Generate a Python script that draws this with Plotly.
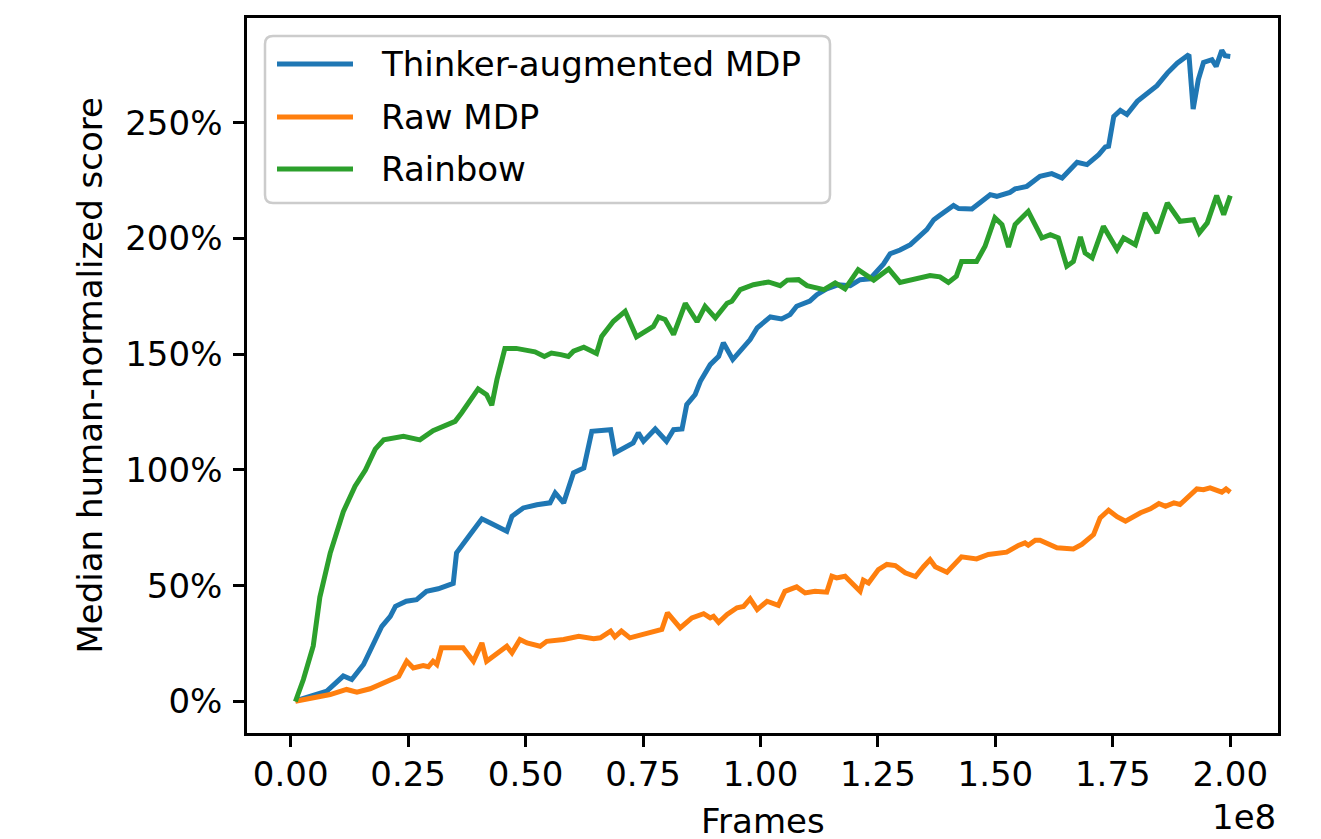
import plotly.graph_objects as go

# ---------------- data (frames in units of 1e8, score in %) ----------------
thinker_x = [0.010, 0.077, 0.112, 0.130, 0.155, 0.173, 0.194, 0.212, 0.223, 0.246, 0.268, 0.289,
             0.314, 0.346, 0.353, 0.382, 0.407, 0.424, 0.460, 0.471, 0.495, 0.524, 0.552, 0.563,
             0.581, 0.602, 0.624, 0.641, 0.681, 0.690, 0.715, 0.729, 0.740, 0.751, 0.776, 0.800,
             0.815, 0.833, 0.843, 0.861, 0.872, 0.893, 0.911, 0.921, 0.941, 0.961, 0.978, 0.993,
             1.021, 1.045, 1.063, 1.077, 1.105, 1.120, 1.141, 1.166, 1.191, 1.212, 1.233, 1.262,
             1.276, 1.297, 1.319, 1.354, 1.369, 1.379, 1.411, 1.422, 1.450, 1.489, 1.503, 1.531,
             1.542, 1.567, 1.595, 1.620, 1.642, 1.674, 1.695, 1.720, 1.734, 1.741, 1.752, 1.766,
             1.780, 1.802, 1.823, 1.844, 1.866, 1.887, 1.912, 1.921, 1.932, 1.943, 1.961, 1.970,
             1.982, 1.989, 2.000]
thinker_y = [0.3, 4.5, 11.0, 9.5, 16.0, 24.0, 32.5, 36.8, 41.1, 43.3, 44.0, 47.6,
             48.7, 51.0, 64.2, 72.1, 78.9, 77.2, 73.5, 80.0, 83.6, 85.0, 85.8, 90.1,
             85.8, 98.8, 100.9, 116.7, 117.4, 107.4, 110.5, 111.7, 116.0, 112.4, 117.7, 112.4,
             117.4, 117.7, 128.2, 132.6, 138.3, 145.5, 149.1, 154.9, 147.7, 152.7, 156.3, 161.4,
             166.1, 165.2, 167.1, 170.7, 172.9, 175.7, 178.2, 180.0, 179.6, 182.2, 182.5, 189.0,
             193.4, 195.0, 197.3, 203.8, 208.1, 209.6, 214.2, 212.9, 212.7, 218.9, 218.2, 219.9,
             221.4, 222.5, 226.8, 228.0, 226.1, 232.9, 231.9, 236.2, 239.5, 239.8, 252.7, 255.3,
             253.5, 259.2, 262.8, 266.0, 271.4, 275.7, 279.4, 255.9, 268.6, 276.0, 277.2, 274.3,
             281.2, 278.9, 278.6]

raw_x = [0.010, 0.048, 0.084, 0.119, 0.141, 0.169, 0.191, 0.215, 0.230, 0.247, 0.261, 0.282,
         0.293, 0.303, 0.311, 0.321, 0.346, 0.367, 0.389, 0.407, 0.417, 0.439, 0.460, 0.471,
         0.488, 0.503, 0.531, 0.545, 0.581, 0.613, 0.645, 0.659, 0.681, 0.690, 0.704, 0.722,
         0.743, 0.765, 0.790, 0.802, 0.829, 0.854, 0.879, 0.893, 0.900, 0.911, 0.929, 0.950,
         0.964, 0.978, 0.993, 1.014, 1.038, 1.052, 1.077, 1.095, 1.116, 1.141, 1.152, 1.162,
         1.180, 1.212, 1.219, 1.230, 1.251, 1.269, 1.287, 1.308, 1.330, 1.347, 1.361, 1.372,
         1.397, 1.428, 1.460, 1.485, 1.524, 1.549, 1.563, 1.570, 1.585, 1.595, 1.631, 1.666,
         1.684, 1.709, 1.723, 1.741, 1.759, 1.777, 1.809, 1.830, 1.848, 1.862, 1.880, 1.893,
         1.912, 1.929, 1.943, 1.957, 1.982, 1.991, 2.000]
raw_y = [0.1, 1.6, 3.0, 5.2, 4.0, 5.5, 7.3, 9.8, 10.9, 17.4, 14.5, 15.5,
         15.0, 17.4, 16.0, 23.2, 23.4, 23.2, 17.4, 25.3, 17.4, 20.7, 23.9, 21.0,
         26.8, 25.3, 23.9, 26.0, 26.8, 28.2, 27.1, 27.5, 30.4, 27.9, 30.4, 27.5,
         28.6, 29.4, 31.1, 38.3, 31.8, 36.1, 37.9, 36.1, 36.8, 34.2, 37.6, 40.5,
         41.1, 44.3, 39.7, 43.3, 41.5, 47.6, 49.5, 46.9, 47.6, 47.2, 54.1, 53.4,
         54.1, 47.6, 52.4, 51.2, 57.0, 59.2, 58.7, 55.6, 54.0, 58.2, 61.3, 58.2,
         55.8, 62.5, 61.6, 63.5, 64.5, 67.4, 68.5, 67.5, 69.7, 69.7, 66.4, 65.9,
         67.8, 72.1, 79.3, 82.6, 79.8, 77.9, 81.5, 83.2, 85.5, 84.3, 85.8, 85.1,
         89.0, 91.8, 91.5, 92.3, 90.4, 91.8, 90.4]

rainbow_x = [0.010, 0.027, 0.048, 0.062, 0.084, 0.112, 0.137, 0.159, 0.180, 0.198, 0.240, 0.275,
             0.303, 0.332, 0.350, 0.364, 0.382, 0.399, 0.417, 0.428, 0.439, 0.456, 0.480, 0.500,
             0.520, 0.540, 0.555, 0.575, 0.591, 0.602, 0.624, 0.651, 0.662, 0.687, 0.712, 0.736,
             0.761, 0.772, 0.783, 0.797, 0.815, 0.840, 0.865, 0.882, 0.904, 0.929, 0.939, 0.957,
             0.985, 1.017, 1.042, 1.057, 1.081, 1.099, 1.135, 1.159, 1.180, 1.208, 1.241, 1.273,
             1.297, 1.326, 1.361, 1.382, 1.400, 1.417, 1.428, 1.460, 1.478, 1.499, 1.514, 1.528,
             1.542, 1.570, 1.599, 1.617, 1.634, 1.652, 1.666, 1.681, 1.691, 1.706, 1.730, 1.759,
             1.773, 1.798, 1.819, 1.844, 1.866, 1.893, 1.922, 1.934, 1.951, 1.971, 1.986, 2.000]
rainbow_y = [0.0, 9.5, 24.0, 45.0, 64.0, 82.0, 93.0, 100.0, 109.0, 113.0, 114.5, 113.0,
             117.0, 119.6, 121.0, 124.7, 130.0, 135.0, 132.5, 128.0, 139.0, 152.5, 152.5, 152.0,
             151.0, 149.0, 150.5, 149.8, 149.0, 151.3, 153.0, 150.3, 157.7, 164.2, 168.5, 157.5,
             160.6, 162.0, 166.0, 165.0, 158.5, 172.0, 164.0, 170.7, 165.7, 172.0, 172.9, 177.9,
             180.0, 181.2, 179.6, 182.0, 182.2, 179.6, 177.9, 180.8, 178.2, 186.5, 182.0, 186.8,
             181.0, 182.2, 184.0, 183.4, 181.0, 183.7, 190.0, 190.0, 196.6, 208.9, 206.0, 196.3,
             206.0, 211.7, 200.2, 201.6, 200.2, 188.0, 190.0, 200.6, 193.7, 191.6, 205.2, 195.2,
             200.2, 197.3, 211.0, 202.4, 215.3, 207.4, 208.1, 202.4, 206.7, 218.5, 210.3, 218.5]

series_names = ["Thinker-augmented MDP", "Raw MDP", "Rainbow"]
series_colors = ["#1f77b4", "#ff7f0e", "#2ca02c"]

x_tick_vals = [0.0, 0.25, 0.5, 0.75, 1.0, 1.25, 1.5, 1.75, 2.0]
x_tick_text = ["0.00", "0.25", "0.50", "0.75", "1.00", "1.25", "1.50", "1.75", "2.00"]
y_tick_vals = [0, 50, 100, 150, 200, 250]
y_tick_text = ["0%", "50%", "100%", "150%", "200%", "250%"]

# ---------------- layout geometry ----------------
# the page body has an 8px margin, so figure coords = window coords - 8
OFF = 8
W, H = 1305, 831
L, R, T, B = 239, 35, 10, 106
PW, PH = W - L - R, H - T - B
FONT = "DejaVu Sans"
FS = 34


def px(xw):
    return (xw - OFF - L) / PW


def py(yw):
    return (H - B - (yw - OFF)) / PH


fig = go.Figure()
for xs, ys, name, col in zip([thinker_x, raw_x, rainbow_x], [thinker_y, raw_y, rainbow_y],
                             series_names, series_colors):
    fig.add_trace(go.Scatter(x=xs, y=ys, mode="lines", name=name,
                             line=dict(color=col, width=5), showlegend=False))

axis_common = dict(showline=True, mirror=True, linecolor="black", linewidth=2.5,
                   ticks="outside", ticklen=11, tickwidth=2.5, tickcolor="black",
                   showgrid=False, zeroline=False,
                   tickfont=dict(family=FONT, size=FS, color="black"))

fig.update_xaxes(range=[-0.093, 2.1016], tickvals=x_tick_vals, ticktext=x_tick_text,
                 ticklabelstandoff=-2, **axis_common)
fig.update_yaxes(range=[-13.6, 295.2], tickvals=y_tick_vals, ticktext=y_tick_text,
                 ticklabelstandoff=4, **axis_common)

annotations = [
    dict(text="Median human-normalized score", textangle=-90, x=px(89), y=0.5,
         xref="paper", yref="paper", xanchor="center", yanchor="middle", showarrow=False,
         font=dict(family=FONT, size=FS, color="black")),
    dict(text="Frames", x=0.5, y=py(821), xref="paper", yref="paper",
         xanchor="center", yanchor="middle", showarrow=False,
         font=dict(family=FONT, size=FS, color="black")),
    dict(text="1e8", x=1.0, y=py(817), xref="paper", yref="paper",
         xanchor="right", yanchor="middle", showarrow=False,
         font=dict(family=FONT, size=FS, color="black")),
]

# manual matplotlib-style legend
bx0, bx1, by0, by1, rad = 265, 830, 36, 203, 8
rx, ry = rad / PW, rad / PH
X0, X1, Y0, Y1 = px(bx0), px(bx1), py(by1), py(by0)
path = (f"M {X0+rx},{Y0} L {X1-rx},{Y0} Q {X1},{Y0} {X1},{Y0+ry} "
        f"L {X1},{Y1-ry} Q {X1},{Y1} {X1-rx},{Y1} L {X0+rx},{Y1} "
        f"Q {X0},{Y1} {X0},{Y1-ry} L {X0},{Y0+ry} Q {X0},{Y0} {X0+rx},{Y0} Z")
shapes = [dict(type="path", path=path, xref="paper", yref="paper",
               fillcolor="rgba(255,255,255,0.8)", line=dict(color="#cccccc", width=2.5))]
legend_rows = [64, 117, 169]
for yrow, name, col in zip(legend_rows, series_names, series_colors):
    shapes.append(dict(type="line", xref="paper", yref="paper", x0=px(277), x1=px(353),
                       y0=py(yrow), y1=py(yrow), line=dict(color=col, width=5)))
    annotations.append(dict(text=name, x=px(379), y=py(yrow), xref="paper", yref="paper",
                            xanchor="left", yanchor="middle", showarrow=False,
                            font=dict(family=FONT, size=FS, color="black")))

fig.update_layout(width=W, height=H, margin=dict(l=L, r=R, t=T, b=B, autoexpand=False),
                  paper_bgcolor="white", plot_bgcolor="white",
                  annotations=annotations, shapes=shapes, showlegend=False)

fig.write_html("out.html")
